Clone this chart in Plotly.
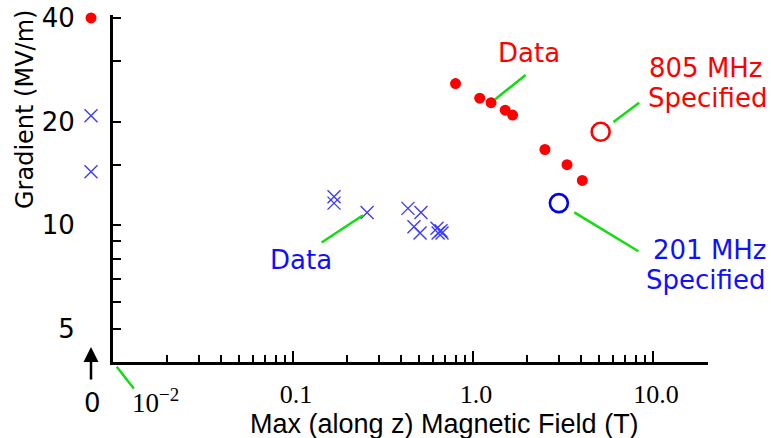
import numpy as np
import plotly.graph_objects as go

# ---------------- data ----------------
red_B = [0.80, 1.09, 1.26, 1.51, 1.66, 2.51, 3.33, 4.05]
red_G = [25.8, 23.4, 22.7, 21.6, 20.9, 16.6, 15.0, 13.5]
blue_B = [0.169, 0.169, 0.258, 0.435, 0.514, 0.470, 0.508, 0.631, 0.664, 0.640, 0.673]
blue_G = [12.1, 11.6, 10.9, 11.2, 10.9, 9.9, 9.5, 9.8, 9.65, 9.5, 9.5]
spec805_B = [5.12]
spec805_G = [18.7]
spec201_B = [3.0]
spec201_G = [11.6]
zero_red_G = [40]
zero_blue_G = [20.8, 14.3]

y_ticks = [5, 10, 20, 40]
y_minor = [6, 7, 8, 9, 15, 30]
x_ticks = [0.1, 1, 10]
x_ticktext = ["0.1", "1.0", "10.0"]
x_minor = [0.02, 0.03, 0.04, 0.05, 0.06, 0.07, 0.08, 0.09,
           0.2, 0.3, 0.4, 0.5, 0.6, 0.7, 0.8, 0.9,
           2, 3, 4, 5, 6, 7, 8, 9, 20]

RED = "#ff0000"
BLUE = "#1010ff"
XBLUE = "#3c3cff"
GREEN = "#11dd11"

W, H = 771, 438
ML, MR, MT, MB = 0, 63, 15, 76
PW = W - ML - MR
PH = H - MT - MB
AX0 = 113  # px of main x-axis start


def px(x):
    return (x - ML) / PW


def py(y):
    return (H - MB - y) / PH


fig = go.Figure()

fig.add_trace(go.Scatter(x=blue_B, y=blue_G, mode="markers",
                         marker=dict(symbol="x-thin", size=13, color=XBLUE, line=dict(width=1.4, color=XBLUE)),
                         cliponaxis=False))
fig.add_trace(go.Scatter(x=red_B, y=red_G, mode="markers",
                         marker=dict(symbol="circle", size=11, color=RED), cliponaxis=False))
fig.add_trace(go.Scatter(x=spec805_B, y=spec805_G, mode="markers",
                         marker=dict(symbol="circle-open", size=18, color=RED, line=dict(width=2.6, color=RED)),
                         cliponaxis=False))
fig.add_trace(go.Scatter(x=spec201_B, y=spec201_G, mode="markers",
                         marker=dict(symbol="circle-open", size=18, color="#0000ee",
                                     line=dict(width=2.6, color="#0000ee")),
                         cliponaxis=False))
# zero-field column
fig.add_trace(go.Scatter(x=[0] * len(zero_blue_G), y=zero_blue_G, mode="markers", xaxis="x2", yaxis="y",
                         marker=dict(symbol="x-thin", size=13, color=XBLUE, line=dict(width=1.4, color=XBLUE)),
                         cliponaxis=False))
fig.add_trace(go.Scatter(x=[0] * len(zero_red_G), y=zero_red_G, mode="markers", xaxis="x2", yaxis="y",
                         marker=dict(symbol="circle", size=11, color=RED), cliponaxis=False))

ann = []


def leader(x, y, ax, ay, standoff, xref="x", yref="y"):
    ann.append(dict(x=x, y=y, xref=xref, yref=yref, text="", showarrow=True, arrowhead=0,
                    arrowwidth=2.5, arrowcolor=GREEN, ax=ax, ay=ay, standoff=standoff))


def label(xp, yp, text, color, size=26, family="DejaVu Sans"):
    ann.append(dict(x=px(xp), y=py(yp), xref="paper", yref="paper", text=text, showarrow=False,
                    xanchor="center", yanchor="middle", font=dict(family=family, size=size, color=color)))


lg = np.log10
leader(lg(red_B[2]), lg(red_G[2]), 36, -29, 5)
leader(lg(spec805_B[0]), lg(spec805_G[0]), 40, -30, 16)
leader(lg(spec201_B[0]), lg(spec201_G[0]), 81, 49, 18)
leader(lg(blue_B[2]), lg(blue_G[2]), -47, 31, 5)
leader(-2, 0, 22, 28, 6, xref="x", yref="paper")

label(529, 53, "Data", RED)
label(706, 68, "805 MHz", RED)
label(707, 98, "Specified", RED)
label(710, 250, "201 MHz", BLUE)
label(705, 280, "Specified", BLUE)
label(301, 260, "Data", BLUE)
label(155, 401, "10<sup>−2</sup>", "black", size=27, family="Liberation Serif")
label(92, 403, "0", "black", size=26)
label(444, 424, "Max (along z) Magnetic Field (T)", "black", size=27, family="Liberation Sans")

# up arrow above the 0
ann.append(dict(x=px(91), y=py(347), xref="paper", yref="paper", text="", showarrow=True,
                arrowhead=2, arrowsize=1.2, arrowwidth=2.5, arrowcolor="black", ax=0, ay=34))
# y title
ann.append(dict(x=px(25), y=py(110), xref="paper", yref="paper", text="Gradient (MV/m)",
                showarrow=False, textangle=-90, xanchor="center", yanchor="middle",
                font=dict(family="DejaVu Sans", size=24, color="black")))

fig.update_layout(
    width=W, height=H, template="none",
    margin=dict(l=ML, r=MR, t=MT, b=MB, pad=0),
    paper_bgcolor="white", plot_bgcolor="white", showlegend=False,
    annotations=ann,
    xaxis=dict(type="log", domain=[px(AX0), 1], range=[-2, 1.3056], showgrid=False, zeroline=False,
               showline=True, linewidth=3, linecolor="black", ticks="inside", ticklen=11, tickwidth=2,
               tickcolor="black", tickmode="array", tickvals=x_ticks, ticktext=x_ticktext,
               tickfont=dict(family="Liberation Serif", size=26, color="black"),
               ticklabelstandoff=7, ticklabelshift=3, automargin=False, anchor="y",
               minor=dict(tickmode="array", tickvals=x_minor, ticks="inside", ticklen=7,
                          tickwidth=2, tickcolor="black", showgrid=False)),
    xaxis2=dict(domain=[px(81), px(101)], range=[-1, 1], visible=False, anchor="y", automargin=False),
    yaxis=dict(type="log", range=[np.log10(4.01), np.log10(40.8)], showgrid=False, zeroline=False,
               showline=True, linewidth=3, linecolor="black", ticks="inside", ticklen=8, tickwidth=2,
               tickcolor="black", tickmode="array", tickvals=y_ticks, ticktext=[str(v) for v in y_ticks],
               tickfont=dict(family="DejaVu Sans", size=26, color="black"),
               ticklabelstandoff=30, automargin=False, anchor="x",
               minor=dict(tickmode="array", tickvals=y_minor, ticks="inside", ticklen=8,
                          tickwidth=2, tickcolor="black", showgrid=False)),
)

fig.write_html("out.html")
